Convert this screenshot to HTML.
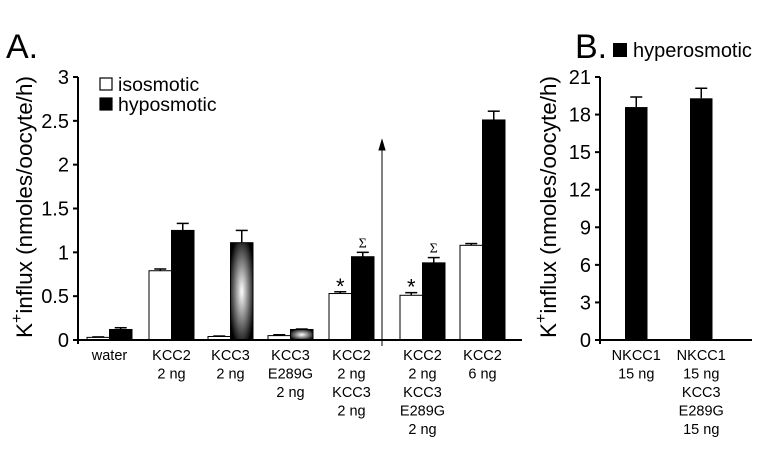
<!DOCTYPE html>
<html><head><meta charset="utf-8"><style>
body{margin:0;background:#fff}
svg{display:block;font-family:"Liberation Sans",Arial,sans-serif}
</style></head><body>
<svg id="c" width="763" height="450" viewBox="0 0 763 450">
<defs>
<radialGradient id="g" cx="50%" cy="50%" r="60%"><stop offset="0" stop-color="#fff"/><stop offset="1" stop-color="#000"/></radialGradient>
</defs>
<text x="6" y="58" font-size="34">A.</text>
<text x="575" y="58" font-size="34">B.</text>
<g id="A"></g><g id="B"></g>
</svg>
<script>
const catsA=[["water"],["KCC2","2 ng"],["KCC3","2 ng"],["KCC3","E289G","2 ng"],["KCC2","2 ng","KCC3","2 ng"],["KCC2","2 ng","KCC3","E289G","2 ng"],["KCC2","6 ng"]];
const isoVals=[0.03,0.79,0.04,0.05,0.53,0.51,1.08];
const isoErr=[0.005,0.02,0.005,0.01,0.02,0.03,0.02];
const hypoVals=[0.12,1.25,1.11,0.12,0.95,0.88,2.51];
const hypoErr=[0.02,0.08,0.14,0.005,0.05,0.06,0.1];
const hypoGrad=[false,false,true,true,false,false,false];
const marksIso=["","","","","*","*",""];
const marksHypo=["","","","","Σ","Σ",""];
const ticksA=[0,0.5,1,1.5,2,2.5,3];
const catsB=[["NKCC1","15 ng"],["NKCC1","15 ng","KCC3","E289G","15 ng"]];
const hyperVals=[18.6,19.3];
const hyperErr=[0.8,0.8];
const ticksB=[0,3,6,9,12,15,18,21];
const NS="http://www.w3.org/2000/svg";
function el(p,t,a,txt){const e=document.createElementNS(NS,t);for(const k in a)e.setAttribute(k,a[k]);if(txt!==undefined)e.textContent=txt;p.appendChild(e);return e;}
const A=document.getElementById('A'),B=document.getElementById('B');
const ax0=78,ax1=522,y0=340,ytop=77;
const yA=v=>y0-(v/3)*(y0-ytop);
const groupX=[87,149,208,268,329,400,460];
const bw=22.5;
function errbar(p,x,v,e){const yt=yA(v+e);
 let l=el(p,'line',{x1:x+bw/2,x2:x+bw/2,y1:yA(v),y2:yt,stroke:'#000','stroke-width':1.5});
 
 let c=el(p,'line',{x1:x+bw/2-6,x2:x+bw/2+6,y1:yt,y2:yt,stroke:'#000','stroke-width':1.5});
 }
catsA.forEach((c,i)=>{
 const xi=groupX[i],xh=xi+bw;
 let r=el(A,'rect',{x:xi,y:yA(isoVals[i]),width:bw,height:y0-yA(isoVals[i]),fill:'#fff',stroke:'#000','stroke-width':1});
 
 errbar(A,xi,isoVals[i],isoErr[i]);
 let h=el(A,'rect',{x:xh,y:yA(hypoVals[i]),width:bw,height:y0-yA(hypoVals[i]),fill:hypoGrad[i]?'url(#g)':'#000',stroke:'#000','stroke-width':1});
 
 errbar(A,xh,hypoVals[i],hypoErr[i]);
 if(marksIso[i]){let t=el(A,'text',{x:xi+bw/2,y:yA(isoVals[i]+isoErr[i])+2,'font-size':22,'text-anchor':'middle'},marksIso[i]);
  }
 if(marksHypo[i]){let t=el(A,'text',{x:xh+bw/2,y:yA(hypoVals[i]+hypoErr[i])-5,'font-size':14,'text-anchor':'middle','font-family':'Liberation Serif'},marksHypo[i]);
  }
 c.forEach((s,j)=>{let t=el(A,'text',{x:xi+bw,y:360+j*18.5,'font-size':14.5,'text-anchor':'middle'},s);
  });
});
let axa=el(A,'path',{d:`M${ax0} ${ytop}V${y0+4}M${ax0} ${y0}H${ax1}`,stroke:'#000','stroke-width':2,fill:'none'});

ticksA.forEach(v=>{el(A,'line',{x1:ax0-5,x2:ax0,y1:yA(v),y2:yA(v),stroke:'#000','stroke-width':2});
 let t=el(A,'text',{x:ax0-9,y:yA(v)+7,'font-size':20,'text-anchor':'end'},String(v));
 });
let ar=el(A,'path',{d:'M382 144V346M379 150L382 140L385 150Z',stroke:'#000','stroke-width':1,fill:'#000'});

let yl=el(A,'text',{transform:'translate(32,207) rotate(-90)','font-size':22.5,'text-anchor':'middle'});

yl.innerHTML='K<tspan dy="-10" font-size="16">+</tspan><tspan dy="10">influx (nmoles/oocyte/h)</tspan>';
[['isosmotic','#fff',78],['hyposmotic','#000',98]].forEach(([n,f,y])=>{
 let r=el(A,'rect',{x:100,y:y,width:12,height:12,fill:f,stroke:'#000','stroke-width':1.2});
 
 let t=el(A,'text',{x:118,y:y+13,'font-size':19.5},n);
 });
const bx0=600,bx1=752;
const yB=v=>y0-(v/21)*(y0-ytop);
const bX=[625,690];
catsB.forEach((c,i)=>{
 let r=el(B,'rect',{x:bX[i],y:yB(hyperVals[i]),width:bw,height:y0-yB(hyperVals[i]),fill:'#000'});
 
 const yt=yB(hyperVals[i]+hyperErr[i]);
 let e=el(B,'path',{d:`M${bX[i]+bw/2} ${yB(hyperVals[i])}V${yt}M${bX[i]+bw/2-6} ${yt}H${bX[i]+bw/2+6}`,stroke:'#000','stroke-width':1.5});
 
 c.forEach((s,j)=>{let t=el(B,'text',{x:bX[i]+bw/2,y:360+j*18.5,'font-size':14.5,'text-anchor':'middle'},s);
  });
});
let axb=el(B,'path',{d:`M${bx0} ${ytop}V${y0+4}M${bx0} ${y0}H${bx1}`,stroke:'#000','stroke-width':2,fill:'none'});

ticksB.forEach(v=>{el(B,'line',{x1:bx0-5,x2:bx0,y1:yB(v),y2:yB(v),stroke:'#000','stroke-width':2});
 let t=el(B,'text',{x:bx0-9,y:yB(v)+7,'font-size':20,'text-anchor':'end'},String(v));
 });
let yl2=el(B,'text',{transform:'translate(556,207) rotate(-90)','font-size':22.5,'text-anchor':'middle'});

yl2.innerHTML='K<tspan dy="-10" font-size="16">+</tspan><tspan dy="10">influx (nmoles/oocyte/h)</tspan>';
let lr=el(B,'rect',{x:613,y:43,width:14,height:14,fill:'#000'});

let lt=el(B,'text',{x:633,y:57,'font-size':20},'hyperosmotic');

</script>
</body></html>
